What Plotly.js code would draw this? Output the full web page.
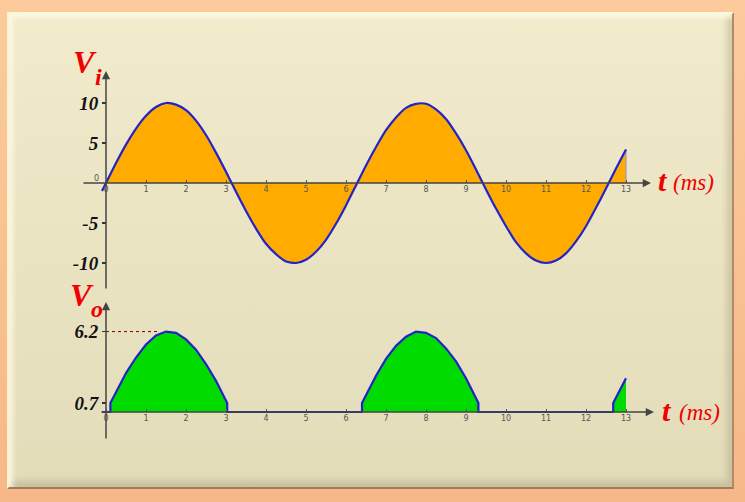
<!DOCTYPE html>
<html>
<head>
<meta charset="utf-8">
<script src="https://cdn.plot.ly/plotly-3.0.1.min.js"></script>
<style>
  html, body { margin:0; padding:0; overflow:hidden; background:#F5BC8E; }
  #frame { position:absolute; left:0; top:0; width:745px; height:502px;
           background:linear-gradient(#FBCB9C, #F6B888); }
  #inner { position:absolute; left:7px; top:12px; right:11px; bottom:13px;
           background:linear-gradient(#F2EBCC, #E3DCB9);
           border-top:2px solid #FFF7DA; border-left:2px solid #FBF2D2;
           border-bottom:2px solid #9E7D5E; border-right:2px solid #B28A66;
           box-shadow: inset 4px 4px 5px rgba(255,252,230,0.8), inset -5px -6px 6px rgba(150,140,110,0.35); }
  #chart { position:absolute; left:0; top:0; width:745px; height:502px; }
</style>
</head>
<body>
<div id="frame"><div id="inner"></div></div>
<div id="chart"></div>
<script>
// ---- data ----
const viT = [-0.1, 0, 0.25, 0.5, 0.75, 1.0, 1.25, 1.5, 1.75, 2.0, 2.25, 2.5, 2.75, 3.0,
  3.25, 3.5, 3.75, 4.0, 4.25, 4.5, 4.75, 5.0, 5.25, 5.5, 5.75, 6.0, 6.25, 6.5, 6.75, 7.0,
  7.25, 7.5, 7.75, 8.0, 8.25, 8.5, 8.75, 9.0, 9.25, 9.5, 9.75, 10.0, 10.25, 10.5, 10.75,
  11.0, 11.25, 11.5, 11.75, 12.0, 12.25, 12.5, 12.75, 13.0];
const viV = [-1.0, 0, 2.5, 4.8, 6.8, 8.4, 9.5, 10.0, 9.8, 9.1, 7.8, 6.0, 3.8, 1.4,
  -1.1, -3.5, -5.7, -7.6, -8.9, -9.8, -10.0, -9.6, -8.6, -7.1, -5.1, -2.8, -0.3, 2.2, 4.5, 6.6,
  8.2, 9.4, 9.9, 9.9, 9.2, 8.0, 6.2, 4.1, 1.7, -0.8, -3.2, -5.4, -7.4, -8.8, -9.7,
  -10.0, -9.7, -8.8, -7.3, -5.4, -3.1, -0.7, 1.8, 4.2];

const voT = [-0.1, 0.11, 0.11, 0.25, 0.5, 0.75, 1.0, 1.25, 1.5, 1.75, 2.0, 2.25, 2.5, 2.75, 3.03, 3.03,
  6.4, 6.4, 6.5, 6.75, 7.0, 7.25, 7.5, 7.75, 8.0, 8.25, 8.5, 8.75, 9.0, 9.31, 9.31,
  12.68, 12.68, 12.75, 13.0];
const voV = [0, 0, 0.7, 1.5, 3.0, 4.2, 5.2, 5.9, 6.2, 6.1, 5.6, 4.8, 3.7, 2.4, 0.7, 0,
  0, 0.7, 1.3, 2.8, 4.1, 5.1, 5.8, 6.2, 6.1, 5.7, 4.9, 3.9, 2.6, 0.7, 0,
  0, 0.7, 1.1, 2.6];

const timeTicks = [0,1,2,3,4,5,6,7,8,9,10,11,12,13];
const viTickVals = [10, 5, -5, -10];
const viTickText = ['10', '5', '-5', '-10'];
const voTickVals = [0.7, 6.2];
const voTickText = ['0.7', '6.2'];
const guideT = [0, 1.3];
const guideV = [6.2, 6.2];

// ---- geometry helpers (pixel layout) ----
const W = 745, H = 502;
const px2t = p => (p - 106) / 40;           // x pixel -> time
const fy = p => 1 - p / H;                  // y pixel -> paper fraction
const fx = p => p / W;                      // x pixel -> paper fraction

const blue = '#2323C8';
const serif = 'Liberation Serif, DejaVu Serif, serif';
const serifBI = {family: serif, weight:'bold', style:'italic'};

const lastT = viT[viT.length - 1], lastV = viV[viV.length - 1];

const traces = [
  {x: viT.slice(1), y: viV.slice(1), xaxis:'x', yaxis:'y', mode:'lines', fill:'tozeroy',
   fillcolor:'#FFAB00', line:{width:0, shape:'spline', smoothing:0.6}, hoverinfo:'skip'},
  {x: [lastT, lastT], y: [0, lastV], xaxis:'x', yaxis:'y', mode:'lines',
   line:{color:'#8A8AE0', width:1}, hoverinfo:'skip'},
  {x: viT, y: viV, xaxis:'x', yaxis:'y', mode:'lines',
   line:{color:blue, width:2.2, shape:'spline', smoothing:0.6}, hoverinfo:'skip'},
  {x: voT, y: voV, xaxis:'x2', yaxis:'y2', mode:'lines', fill:'tozeroy',
   fillcolor:'#00DC00', line:{color:blue, width:2.2}, hoverinfo:'skip'},
  {x: guideT, y: guideV, xaxis:'x2', yaxis:'y2', mode:'lines',
   line:{color:'#7A0000', width:1, dash:'dot'}, hoverinfo:'skip'}
];

const xCommon = {
  range:[px2t(0), px2t(W)], domain:[0,1], anchor:'free',
  showgrid:false, zeroline:false, showline:false,
  tickmode:'array', tickvals: timeTicks, ticktext: timeTicks.map(String),
  ticks:'inside', ticklen:3, tickwidth:1, tickcolor:'#555',
  tickfont:{family:'DejaVu Sans, Arial, sans-serif', size:8, color:'#555'},
  fixedrange:true
};

const yCommon = {
  anchor:'free', position: fx(106), showgrid:false, zeroline:false, showline:false,
  ticks:'outside', ticklen:4, tickwidth:1.2, tickcolor:'#333',
  tickfont: Object.assign({size:19, color:'#111'}, serifBI),
  tickmode:'array', fixedrange:true
};

const arrowBase = {text:'', showarrow:true, arrowhead:2, arrowsize:1.1, arrowwidth:1.5,
  arrowcolor:'#444', axref:'pixel', ayref:'pixel', standoff:0, startstandoff:0};

function label(px, py, text, font) {
  return {xref:'paper', yref:'paper', x: fx(px), y: fy(py), xanchor:'center', yanchor:'middle',
          text: text, showarrow:false, font: font};
}
const redBI = s => Object.assign({size:s, color:'#F00000'}, serifBI);
const redI = s => ({family: serif, style:'italic', size:s, color:'#F00000'});

const annotations = [
  // axes with arrowheads
  Object.assign({}, arrowBase, {xref:'x', yref:'y', x: px2t(651), y:0, ax: 82-651, ay:0}),
  Object.assign({}, arrowBase, {xref:'x', yref:'y', x:0, y:(183-71)/8, ax:0, ay:219}),
  Object.assign({}, arrowBase, {xref:'x2', yref:'y2', x: px2t(654), y:0, ax: 100-654, ay:0}),
  Object.assign({}, arrowBase, {xref:'x2', yref:'y2', x:0, y:(412-302)/12.97, ax:0, ay:138}),
  // small zero label
  label(97, 178, '0', {family:'DejaVu Sans, Arial, sans-serif', size:8, color:'#555'}),
  // Vi
  label(85, 62, 'V', redBI(32)),
  label(98, 77, 'i', redBI(24)),
  // Vo
  label(82, 295, 'V', redBI(32)),
  label(97, 309, 'o', redBI(24)),
  // t(ms) top
  label(663, 180, 't', redBI(30)),
  label(693, 182, '(ms)', redI(23)),
  // t(ms) bottom
  label(667, 410, 't', redBI(30)),
  label(699, 412, '(ms)', redI(23))
];

const layout = {
  width: W, height: H, margin:{l:0, r:0, t:0, b:0, pad:0},
  paper_bgcolor:'rgba(0,0,0,0)', plot_bgcolor:'rgba(0,0,0,0)',
  showlegend:false,
  xaxis: Object.assign({}, xCommon, {position: fy(183)}),
  xaxis2: Object.assign({}, xCommon, {position: fy(412)}),
  yaxis: Object.assign({}, yCommon, {domain:[fy(290), fy(60)],
    range:[(183-290)/8, (183-60)/8], tickvals: viTickVals, ticktext: viTickText}),
  yaxis2: Object.assign({}, yCommon, {domain:[fy(440), fy(290)],
    range:[(412-440)/12.97, (412-290)/12.97], tickvals: voTickVals, ticktext: voTickText}),
  annotations: annotations
};

Plotly.newPlot('chart', traces, layout, {staticPlot:true, displayModeBar:false});
</script>
</body>
</html>
